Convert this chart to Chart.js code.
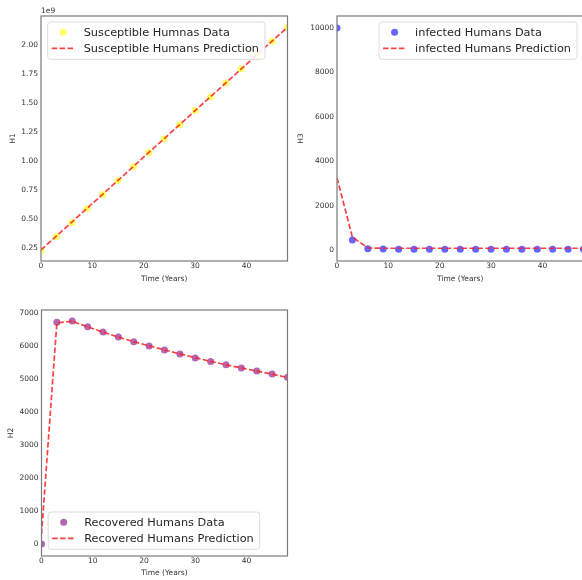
<!DOCTYPE html>
<html>
<head>
<meta charset="utf-8">
<script src="https://cdn.jsdelivr.net/npm/chart.js@4.4.1/dist/chart.umd.min.js"></script>
<style>
  html, body { margin: 0; padding: 0; background: #fff; overflow: hidden; width: 582px; height: 580px; }
  canvas { position: absolute; }
</style>
</head>
<body>
<canvas id="susChart" width="291" height="290" style="left:0;top:0"></canvas>
<canvas id="infChart" width="297" height="290" style="left:290px;top:0"></canvas>
<canvas id="recChart" width="291" height="290" style="left:0;top:290px"></canvas>
<script>
// time points (years)
const years = [0, 3, 6, 9, 12, 15, 18, 21, 24, 27, 30, 33, 36, 39, 42, 45, 48];

// H1 - susceptible humans
const susData = [0.232e9, 0.352e9, 0.472e9, 0.594e9, 0.714e9, 0.835e9, 0.955e9, 1.075e9, 1.195e9, 1.315e9, 1.437e9, 1.555e9, 1.675e9, 1.796e9, 1.915e9, 2.035e9, 2.152e9];
const susPred = [0.236e9, 0.356e9, 0.476e9, 0.596e9, 0.716e9, 0.836e9, 0.956e9, 1.076e9, 1.196e9, 1.316e9, 1.436e9, 1.556e9, 1.676e9, 1.796e9, 1.916e9, 2.036e9, 2.156e9];

// H3 - infected humans
const infData = [10000, 450, 60, 40, 35, 35, 35, 35, 35, 35, 35, 35, 35, 35, 35, 35, 35];
const infPred = [3250, 580, 95, 80, 80, 80, 80, 80, 80, 80, 80, 80, 80, 80, 80, 80, 80];

// H2 - recovered humans
const recData = [0, 6720, 6760, 6580, 6420, 6270, 6130, 6000, 5880, 5760, 5640, 5530, 5430, 5330, 5240, 5150, 5050];
const recPred = [300, 6700, 6750, 6580, 6420, 6270, 6130, 6005, 5880, 5760, 5645, 5535, 5430, 5335, 5240, 5150, 5045];

// tick labels
const xTicks = [0, 10, 20, 30, 40];
const susTicks = [0.25e9, 0.5e9, 0.75e9, 1.0e9, 1.25e9, 1.5e9, 1.75e9, 2.0e9];
const infTicks = [0, 2000, 4000, 6000, 8000, 10000];
const recTicks = [0, 1000, 2000, 3000, 4000, 5000, 6000, 7000];

Chart.defaults.font.family = 'DejaVu Sans';
Chart.defaults.color = '#333';

const frameAndLegend = {
  id: 'frameAndLegend',
  afterDatasetsDraw(chart, args, opts) {
    const ctx = chart.ctx;
    const a = chart.chartArea;
    ctx.save();
    ctx.strokeStyle = '#7a7a7a';
    ctx.lineWidth = 1.2;
    ctx.strokeRect(a.left, a.top, a.right - a.left, a.bottom - a.top);

    if (opts.offsetText) {
      ctx.fillStyle = '#333';
      ctx.font = '7.5px "DejaVu Sans"';
      ctx.textBaseline = 'middle';
      ctx.fillText(opts.offsetText, a.left, a.top - 5);
    }

    // legend box
    const ds = chart.data.datasets;
    ctx.font = '11.3px "DejaVu Sans"';
    let tw = 0;
    ds.forEach(d => { tw = Math.max(tw, ctx.measureText(d.label).width); });
    const w = 36 + tw + 6;
    const h = 37.3;
    let bx = opts.corner === 'tr' ? a.right - 6.5 - w : a.left + 6.7;
    let by = opts.corner === 'bl' ? a.bottom - 6.7 - h : a.top + 6;
    ctx.beginPath();
    ctx.roundRect(bx, by, w, h, 3);
    ctx.fillStyle = 'rgba(255,255,255,0.85)';
    ctx.fill();
    ctx.strokeStyle = '#dcdcdc';
    ctx.lineWidth = 1;
    ctx.stroke();

    ds.forEach((d, i) => {
      const cy = by + 10.3 + i * 16;
      if (d.showLine === false) {
        ctx.beginPath();
        ctx.arc(bx + 15.5, cy, 3.5, 0, Math.PI * 2);
        ctx.fillStyle = d.pointBackgroundColor;
        ctx.fill();
      } else {
        ctx.beginPath();
        ctx.setLineDash(d.borderDash);
        ctx.strokeStyle = d.borderColor;
        ctx.lineWidth = d.borderWidth;
        ctx.moveTo(bx + 4, cy);
        ctx.lineTo(bx + 25.6, cy);
        ctx.stroke();
        ctx.setLineDash([]);
      }
      ctx.fillStyle = '#262626';
      ctx.textBaseline = 'middle';
      ctx.fillText(d.label, bx + 36, cy + 0.5);
    });
    ctx.restore();
  }
};

function pts(ys) {
  return years.map((t, i) => ({ x: t, y: ys[i] }));
}

function makeChart(id, cfg) {
  return new Chart(document.getElementById(id), {
    type: 'line',
    data: {
      datasets: [
        {
          label: cfg.dataLabel,
          data: pts(cfg.data),
          showLine: false,
          pointRadius: 3.5,
          pointHoverRadius: 3.5,
          pointBorderWidth: 0,
          pointBackgroundColor: cfg.dotColor,
          order: 2,
          clip: 0
        },
        {
          label: cfg.predLabel,
          data: pts(cfg.pred),
          borderColor: 'rgba(255,30,30,0.85)',
          borderWidth: 1.7,
          borderDash: [5.5, 2.4],
          pointRadius: 0,
          tension: 0,
          order: 1,
          clip: 0
        }
      ]
    },
    options: {
      responsive: false,
      animation: false,
      events: [],
      layout: { padding: cfg.padding },
      plugins: {
        legend: { display: false },
        tooltip: { enabled: false },
        frameAndLegend: { corner: cfg.corner, offsetText: cfg.offsetText }
      },
      scales: {
        x: {
          type: 'linear',
          min: 0,
          max: 48,
          grid: { display: false, drawTicks: false },
          border: { display: false },
          afterBuildTicks: s => { s.ticks = xTicks.map(v => ({ value: v })); },
          afterFit: s => { s.height = cfg.xHeight; },
          ticks: { font: { size: 7.5 }, padding: 1, autoSkip: false, maxRotation: 0, callback: v => String(v) },
          title: { display: true, text: 'Time (Years)', font: { size: 7.5 }, padding: { top: 0, bottom: cfg.xTitlePad } }
        },
        y: {
          type: 'linear',
          min: cfg.yMin,
          max: cfg.yMax,
          grid: { display: false, drawTicks: false },
          border: { display: false },
          afterBuildTicks: s => { s.ticks = cfg.yTicks.map(v => ({ value: v })); },
          afterFit: s => { s.width = cfg.yWidth; },
          ticks: { font: { size: 7.5 }, padding: 3, autoSkip: false, callback: cfg.yFmt },
          title: { display: true, text: cfg.yLabel, font: { size: 7.5 }, padding: { top: cfg.yTitlePad, bottom: 0 } }
        }
      }
    },
    plugins: [frameAndLegend]
  });
}

makeChart('susChart', {
  data: susData, pred: susPred,
  dataLabel: 'Susceptible Humnas Data', predLabel: 'Susceptible Humans Prediction',
  dotColor: 'rgba(255,255,0,0.6)', corner: 'tl', offsetText: '1e9',
  yMin: 0.141e9, yMax: 2.252e9, yTicks: susTicks, yFmt: v => (v / 1e9).toFixed(2),
  yLabel: 'H1', yWidth: 41, yTitlePad: 8.8, xHeight: 29, xTitlePad: 6.2,
  padding: { top: 16, right: 3, left: 0, bottom: 0 }
});

makeChart('infChart', {
  data: infData, pred: infPred,
  dataLabel: 'infected Humans Data', predLabel: 'infected Humans Prediction',
  dotColor: 'rgba(0,0,255,0.6)', corner: 'tr',
  yMin: -495, yMax: 10540, yTicks: infTicks, yFmt: v => String(v),
  yLabel: 'H3', yWidth: 47, yTitlePad: 6.5, xHeight: 29, xTitlePad: 6.2,
  padding: { top: 16, right: 3, left: 0, bottom: 0 }
});

makeChart('recChart', {
  data: recData, pred: recPred,
  dataLabel: 'Recovered Humans Data', predLabel: 'Recovered Humans Prediction',
  dotColor: 'rgba(128,0,128,0.6)', corner: 'bl',
  yMin: -360, yMax: 7090, yTicks: recTicks, yFmt: v => String(v),
  yLabel: 'H2', yWidth: 41.5, yTitlePad: 6.5, xHeight: 24, xTitlePad: 2.2,
  padding: { top: 20, right: 3, left: 0, bottom: 0 }
});
</script>
</body>
</html>
